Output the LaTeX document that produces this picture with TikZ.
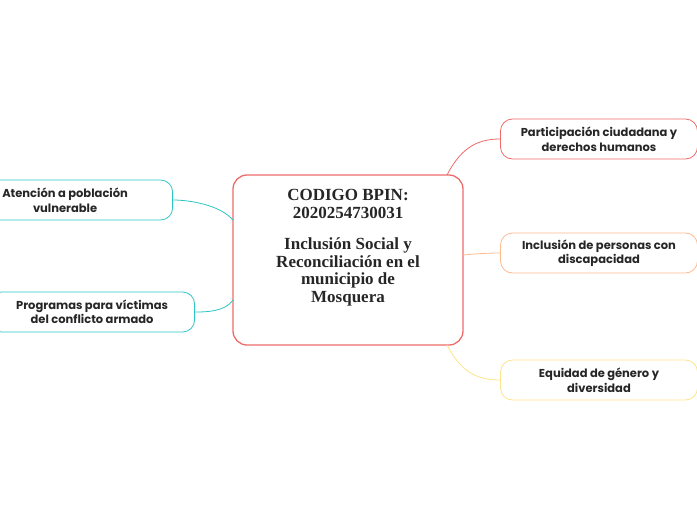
\documentclass[tikz,border=0pt]{standalone}
\usepackage{fontspec}
\setmainfont{Poppins}
\newfontfamily\titlefont{Liberation Serif}
\definecolor{redline}{HTML}{F06A6A}
\definecolor{orangeline}{HTML}{FDBA8C}
\definecolor{yellowline}{HTML}{FBE58A}
\definecolor{tealline}{HTML}{2EC4C4}
\begin{document}
\begin{tikzpicture}[x=1pt,y=-1pt]
		\tikzstyle{topic}=[rounded corners=12pt,draw,line width=0.8pt,minimum width=197pt,minimum height=40pt,align=center,font=\fontsize{11.5}{14.5}\selectfont\bfseries,text=black!85]
		\tikzstyle{link}=[line width=0.8pt]
		\useasboundingbox (0,0) rectangle (697,520);
		\node[draw=redline,line width=1.3pt,rounded corners=14pt,minimum width=230pt,minimum height=170pt,text depth=28pt,align=center,font=\titlefont\fontsize{17}{17.5}\selectfont\bfseries,text=black!85] (main) at (348,260)
		{CODIGO BPIN:\\2020254730031\\[14pt]Inclusión Social y\\Reconciliación en el\\municipio de\\Mosquera};
		\node[topic,draw=redline] (part) at (599,139) {Participación ciudadana y\\derechos humanos};
		\node[topic,draw=orangeline] (disc) at (599,253) {Inclusión de personas con\\discapacidad};
		\node[topic,draw=yellowline] (equi) at (599,380) {Equidad de género y\\diversidad};
		\node[topic,draw=tealline,anchor=east,minimum width=215pt] (aten) at (173,200) {Atención a población\\vulnerable};
		\node[topic,draw=tealline,anchor=east,minimum width=205pt] (prog) at (195,312) {Programas para víctimas\\del conflicto armado};

		\coordinate (m1) at (447,175);
		\coordinate (m2) at (463,255);
		\coordinate (m3) at (447,345);
		\coordinate (m4) at (233,220);
		\coordinate (m5) at (233,300);
		\draw[link,redline] (m1) .. controls (460,150) and (475,139) .. (part.west);
		\draw[link,orangeline] (m2) .. controls (475,254) and (485,253) .. (disc.west);
		\draw[link,yellowline] (m3) .. controls (460,370) and (475,380) .. (equi.west);
		\draw[link,tealline] (m4) .. controls (220,205) and (190,200) .. (aten.east);
		\draw[link,tealline] (m5) .. controls (225,312) and (205,312) .. (prog.east);
\end{tikzpicture}
\end{document}
